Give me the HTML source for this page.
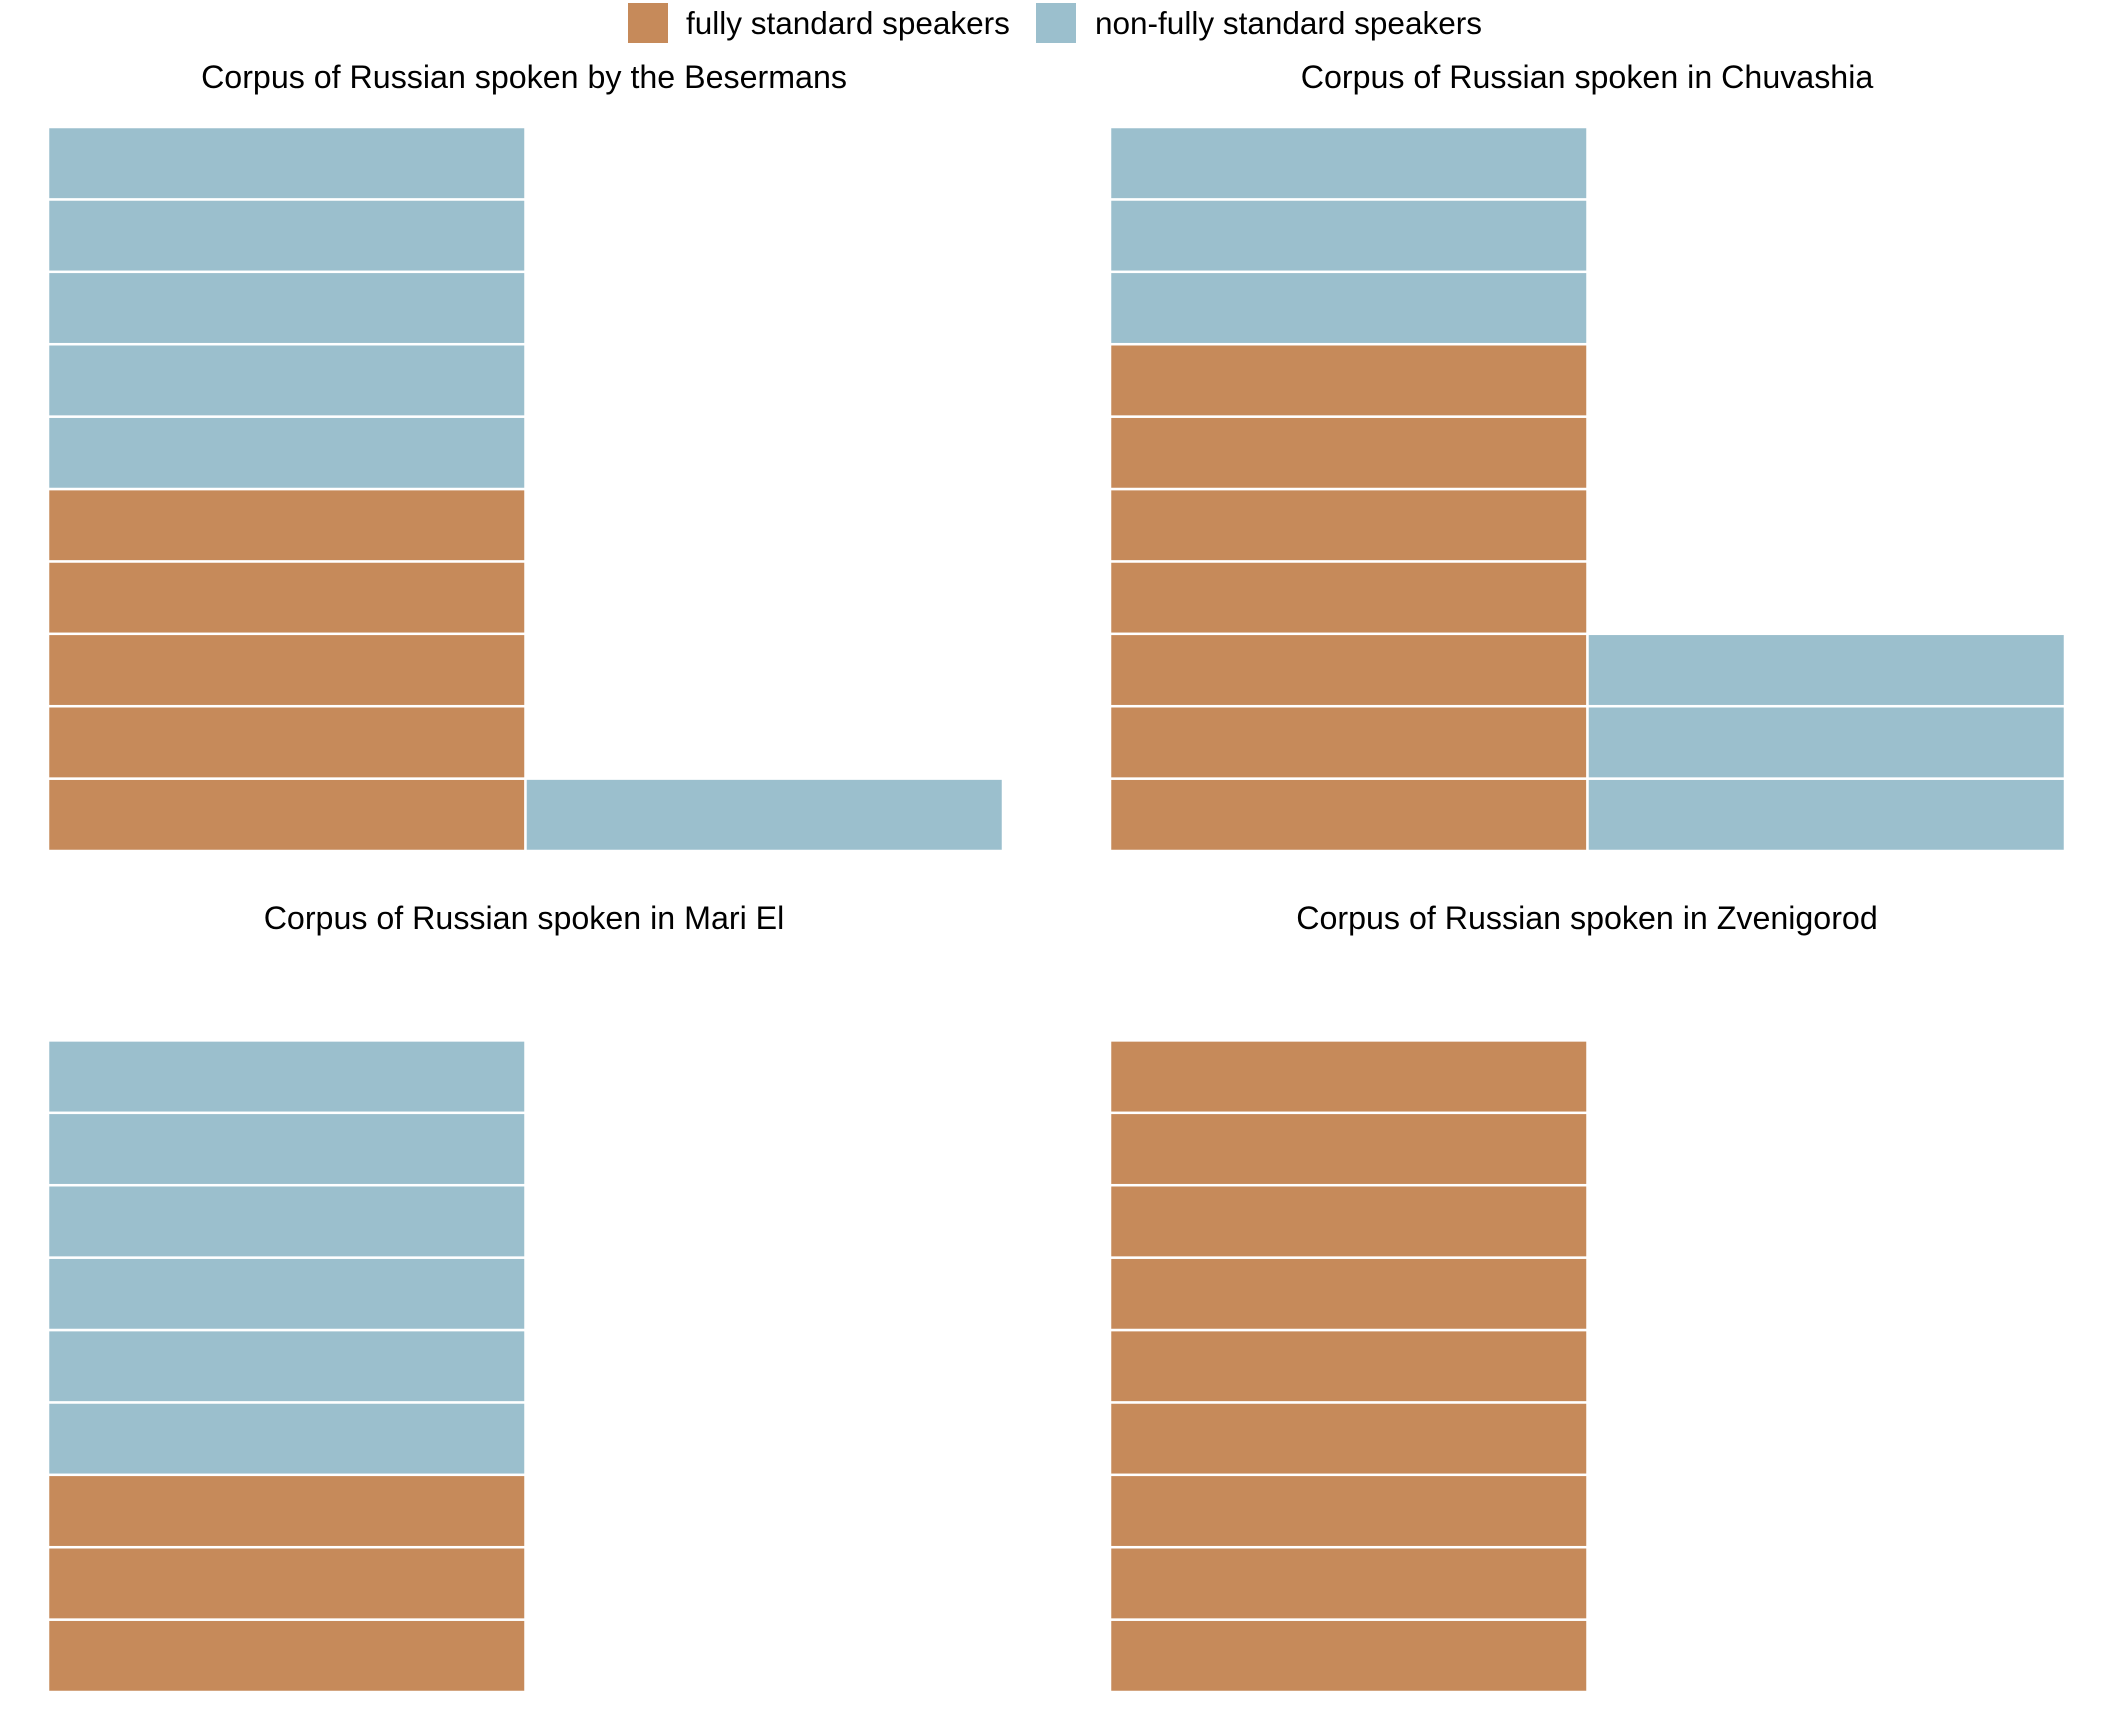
<!DOCTYPE html>
<html><head><meta charset="utf-8">
<style>
html,body{margin:0;padding:0;background:#fff;}
svg{display:block;font-family:"Liberation Sans",Arial,sans-serif;}
</style></head>
<body>
<svg id="chart" width="2112" height="1728" viewBox="0 0 2112 1728">
  <g>
    <rect x="628" y="3" width="40" height="40" fill="#C68A5A"/>
    <text x="686" y="34" font-size="31.5" fill="#000">fully standard speakers</text>
    <rect x="1036" y="3" width="40" height="40" fill="#9BBFCD"/>
    <text x="1095" y="34" font-size="31.5" fill="#000">non-fully standard speakers</text>
  </g>
</svg>
<script>
const panelTitles = ["Corpus of Russian spoken by the Besermans","Corpus of Russian spoken in Chuvashia","Corpus of Russian spoken in Mari El","Corpus of Russian spoken in Zvenigorod"];
const fullyCounts = [5, 7, 3, 9];
const nonFullyCounts = [6, 6, 6, 0];
const rowsPerColumn = 10;

const svg = document.getElementById('chart');
const NS = 'http://www.w3.org/2000/svg';
const panels = [
  {x0:48, bottom:851, titleX:524, titleY:88},
  {x0:1110, bottom:851, titleX:1587, titleY:88},
  {x0:48, bottom:1692, titleX:524, titleY:929},
  {x0:1110, bottom:1692, titleX:1587, titleY:929}
];
const tileW = 477.5, tileH = 72.4;
function xPos(p, col){ return panels[p].x0 + col*tileW; }
function yPos(p, row){ return panels[p].bottom - (row+1)*tileH; }

panels.forEach((pn, p) => {
  const g = document.createElementNS(NS,'g');
  
  
  svg.appendChild(g);
  const t = document.createElementNS(NS,'text');
  t.setAttribute('x', pn.titleX); t.setAttribute('y', pn.titleY);
  t.setAttribute('text-anchor','middle'); t.setAttribute('font-size','32.2');
  t.textContent = panelTitles[p];
  
  
  g.appendChild(t);
  const cats = [];
  for (let i=0;i<fullyCounts[p];i++) cats.push('fully');
  for (let i=0;i<nonFullyCounts[p];i++) cats.push('non');
  cats.forEach((c, i) => {
    const col = Math.floor(i/rowsPerColumn), row = i%rowsPerColumn;
    const r = document.createElementNS(NS,'rect');
    r.setAttribute('x', xPos(p,col)); r.setAttribute('y', yPos(p,row));
    r.setAttribute('width', tileW); r.setAttribute('height', tileH);
    r.setAttribute('fill', c==='fully' ? '#C68A5A' : '#9BBFCD');
    r.setAttribute('stroke', '#fff'); r.setAttribute('stroke-width', '2.5');
    
    
    g.appendChild(r);
  });
});
</script>
</body></html>
